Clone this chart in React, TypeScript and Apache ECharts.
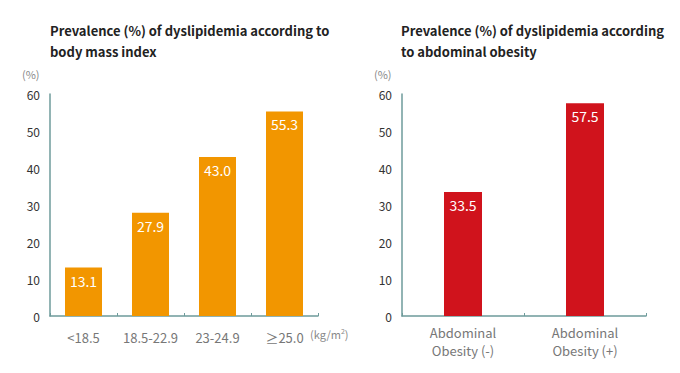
import React, { useEffect, useRef } from "react";
import * as echarts from "echarts";

const bmiCategories = ["<18.5", "18.5-22.9", "23-24.9", "≥25.0"];
const bmiValues = [13.1, 27.9, 43.0, 55.3];
const obesityCategories = ["Abdominal\nObesity (-)", "Abdominal\nObesity (+)"];
const obesityValues = [33.5, 57.5];
const yTicks = { min: 0, max: 60, interval: 10 };
const titleLeft = "Prevalence (%) of dyslipidemia according to\nbody mass index";
const titleRight = "Prevalence (%) of dyslipidemia according\nto abdominal obesity";

const FONT = "'Noto Sans CJK KR', 'Noto Sans', sans-serif";
const AXIS_COLOR = "#6e9b9b";

export default function App() {
  const ref = useRef<HTMLDivElement>(null);
  useEffect(() => {
    if (!ref.current) return;
    const chart = echarts.init(ref.current, undefined, { renderer: "svg" });
    const yAxisBase = (gridIndex: number) => ({
      type: "value",
      gridIndex,
      min: yTicks.min,
      max: yTicks.max,
      interval: yTicks.interval,
      axisLine: { show: true, lineStyle: { color: AXIS_COLOR, width: 1.5 } },
      axisTick: { show: false },
      splitLine: { show: false },
      axisLabel: { color: "#333", fontSize: 12, margin: 10, fontFamily: FONT },
    });
    const xAxisBase = (gridIndex: number, data: string[], margin: number) => ({
      type: "category",
      gridIndex,
      data,
      axisLine: { show: true, lineStyle: { color: AXIS_COLOR, width: 1.5 } },
      axisTick: { show: true, inside: true, length: 3, lineStyle: { color: AXIS_COLOR } },
      axisLabel: {
        interval: 0,
        color: "#777",
        fontSize: 13,
        margin,
        lineHeight: 18,
        fontFamily: FONT,
      },
    });
    const labelCfg = {
      show: true,
      position: "insideTop",
      distance: 6,
      color: "#fff",
      fontSize: 14,
      fontFamily: FONT,
      formatter: (p: any) => Number(p.value).toFixed(1),
    };
    const titleStyle = { fontSize: 13, fontWeight: "bold", color: "#222", lineHeight: 21, fontFamily: FONT };
    chart.setOption({
      animation: false,
      title: [
        { text: titleLeft, left: 45, top: 15, textStyle: titleStyle },
        { text: titleRight, left: 396, top: 15, textStyle: titleStyle },
      ],
      graphic: [
        { type: "text", left: 22, top: 68, style: { text: "(%)", fill: "#888", fontSize: 11, fontFamily: FONT } },
        { type: "text", left: 374, top: 68, style: { text: "(%)", fill: "#888", fontSize: 11, fontFamily: FONT } },
        {
          type: "text",
          left: 310,
          top: 327,
          style: {
            rich: {
              a: { fill: "#888", fontSize: 11, fontFamily: FONT },
              s: { fill: "#888", fontSize: 7, fontFamily: FONT, verticalAlign: "top", padding: [0, 0, 6, 0] },
            },
            text: "{a|(kg/m}{s|2}{a|)}",
          },
        },
      ],
      grid: [
        { left: 50, top: 94, width: 268, height: 222 },
        { left: 402, top: 94, width: 244, height: 222 },
      ],
      xAxis: [xAxisBase(0, bmiCategories, 12), xAxisBase(1, obesityCategories, 7)],
      yAxis: [yAxisBase(0), yAxisBase(1)],
      series: [
        {
          type: "bar",
          xAxisIndex: 0,
          yAxisIndex: 0,
          data: bmiValues,
          barWidth: 37,
          itemStyle: { color: "#f29600" },
          label: labelCfg,
        },
        {
          type: "bar",
          xAxisIndex: 1,
          yAxisIndex: 1,
          data: obesityValues,
          barWidth: 38,
          itemStyle: { color: "#d0131c" },
          label: labelCfg,
        },
      ],
    });
    return () => chart.dispose();
  }, []);
  return (
    <div
      ref={ref}
      style={{ position: "fixed", left: 0, top: 0, width: 680, height: 373, background: "#fff" }}
    />
  );
}
